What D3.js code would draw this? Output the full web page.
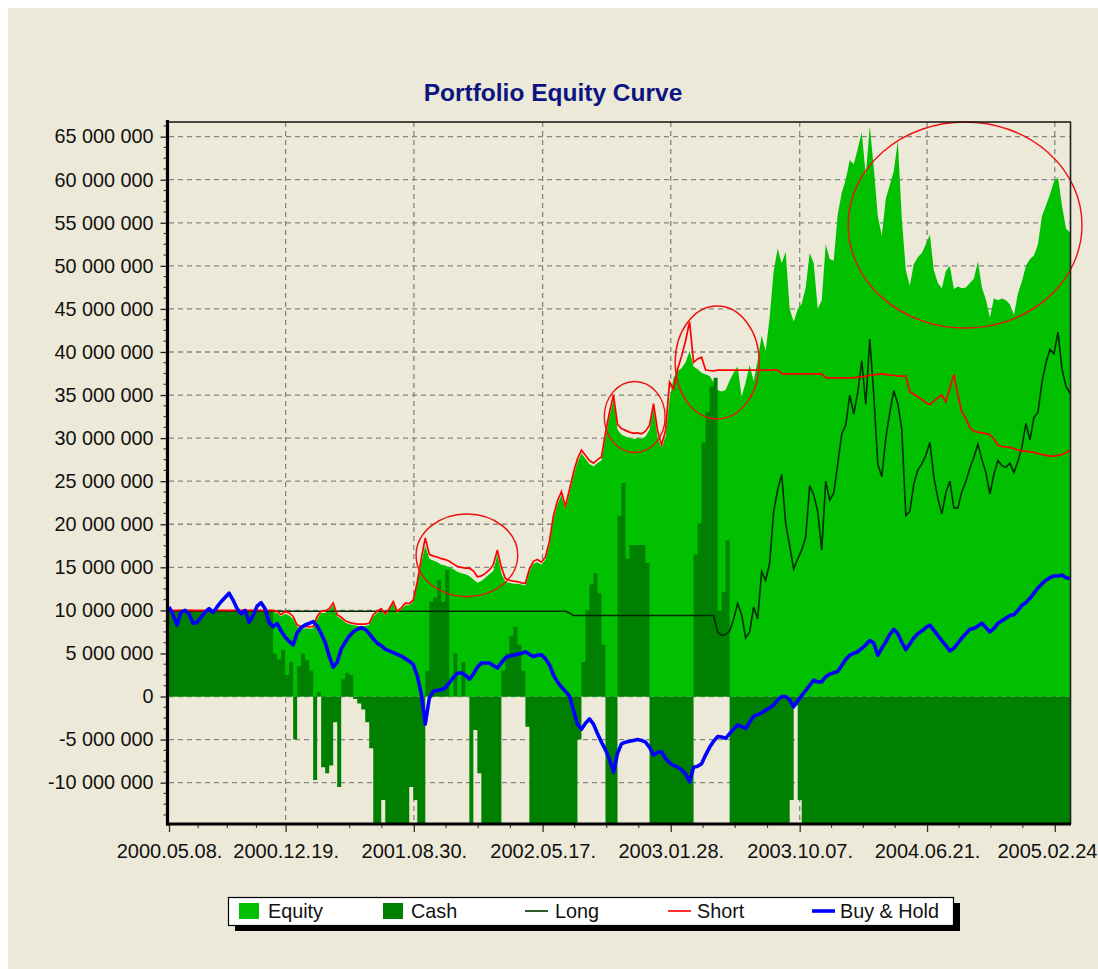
<!DOCTYPE html>
<html><head><meta charset="utf-8">
<script src="https://cdn.jsdelivr.net/npm/d3@7"></script>
<style>body{margin:0;background:#fff}svg{display:block}</style>
</head><body><svg id="c" width="1098" height="969"></svg>
<script>
// ---------- data (values in millions) ----------
const dateLabels = ["2000.05.08.","2000.12.19.","2001.08.30.","2002.05.17.","2003.01.28.","2003.10.07.","2004.06.21.","2005.02.24"];
const dateTickIndex = [0, 29.12, 61.14, 93.3, 125.3, 157.5, 189.3, 221.2];
const yTicksM = [-10,-5,0,5,10,15,20,25,30,35,40,45,50,55,60,65];
const seriesNames = ["Equity","Cash","Long","Short","Buy & Hold"];

const equityM = [
9.9,9.9,9.9,9.9,9.9,9.9,9.9,9.9,9.9,9.9,9.9,9.9,9.9,9.9,9.9,9.9,9.9,9.9,9.9,9.9,9.9,9.9,9.9,9.9,9.9,9.9,
9.8,9.7,9.3,9.6,9.4,9.0,8.1,7.9,7.9,7.9,7.9,9.0,9.7,9.7,10.0,10.6,9.3,9.0,8.6,8.4,8.3,8.2,8.2,8.2,8.3,9.3,9.7,10.0,9.4,10.0,10.8,9.7,10.1,10.6,10.6,11.0,
13.0,15.5,17.5,16.0,15.8,15.6,15.3,15.2,15.0,14.8,14.5,14.3,14.2,14.0,13.6,13.2,13.4,13.8,14.2,14.6,16.5,14.3,13.3,13.2,13.1,13.1,13.0,12.9,
14.5,15.4,15.6,15.3,15.9,17.6,20.6,22.3,23.4,21.7,23.6,25.6,27.2,28.2,27.6,27.0,26.7,27.1,27.4,30.1,32.5,34.5,31.0,30.4,30.2,30.0,29.9,30.0,29.9,30.2,31.0,33.5,30.2,28.8,30.2,34.5,37.0,37.8,38.1,38.8,40.1,
38.3,38.0,37.6,37.4,37.2,36.5,35.6,35.4,35.6,36.7,37.6,38.3,34.8,36.5,38.5,36.6,39.0,41.9,40.1,44.0,49.4,52.0,50.3,51.6,45.0,43.5,45.0,45.6,47.5,51.5,50.3,45.0,46.0,52.5,50.8,50.6,56.0,58.5,60.0,62.3,61.8,
63.6,65.5,60.5,66.2,61.4,55.8,53.5,57.8,59.4,61.0,64.5,55.5,49.5,47.7,50.2,51.0,51.5,52.5,53.6,49.5,48.0,47.4,49.4,50.0,47.3,47.6,47.4,47.5,48.0,48.5,50.5,47.5,46.1,44.0,46.2,46.0,46.2,46.0,45.5,44.3,46.8,48.2,50.0,50.8,51.2,52.5,55.8,57.0,58.3,59.8,60.3,57.0,54.3,53.9
];

const cashM = [
9.9,9.9,9.9,9.9,9.9,9.9,9.9,9.9,9.9,9.9,9.9,9.9,9.9,9.9,9.9,9.9,9.9,9.9,9.9,9.9,9.9,9.9,9.9,9.9,9.9,9.9,
5.0,4.3,5.4,2.5,4.0,-5.0,3.5,5.0,4.2,3.0,-9.7,0.5,-8.2,-8.9,-8.0,-3.0,-10.5,2.0,2.75,2.5,-0.3,-0.8,-1.5,-3.0,-6.0,
-16,-16,-12,-16,-16,-16,-16,-16,-16,-10.5,-12,-16,-16,
3.0,11.0,11.5,13.5,11.0,14.7,0,5.0,0,4.0,0,
-16,-3.9,-8.9,-16,-16,-16,-16,-16,
3.0,5.0,7.0,8.1,6.0,3.0,
-3.5,-16,-16,-16,-16,-16,-16,-16,-16,-16,-16,-16,-16,-5.0,
4.0,10.0,13.0,14.3,12.0,6.0,
-16,-16,-16,
21.0,24.8,16.0,17.6,17.6,17.6,17.6,15.5,
-16,-16,-16,-16,-16,-16,-16,-16,-16,-16,-16,
16.5,20.1,29.5,33.0,36.0,37.0,
10.0,12.1,18.1,
-16,-16,-16,-16,-16,-16,-16,-16,-16,-16,-16,-16,-16,-16,-16,-12,-1.0,-12,
-16,-16,-16,-16,-16,-16,-16,-16,-16,-16,-16,-16,-16,-16,-16,-16,-16,-16,-16,-16,-16,-16,-16,-16,-16,-16,-16,-16,-16,-16,-16,-16,-16,-16,
-16,-16,-16,-16,-16,-16,-16,-16,-16,-16,-16,-16,-16,-16,-16,-16,-16,-16,-16,-16,-16,-16,-16,-16,-16,-16,-16,-16,-16,-16,-16,-16,-16,-16
];

const longM = [
9.9,9.9,9.9,9.9,9.9,9.9,9.9,9.9,9.9,9.9,9.9,9.9,9.9,9.9,9.9,9.9,9.9,9.9,9.9,9.9,9.9,9.9,9.9,9.9,9.9,
9.9,9.9,9.9,9.9,9.9,9.9,9.9,9.9,9.9,9.9,9.9,9.9,9.9,9.9,9.9,9.9,9.9,9.9,9.9,9.9,9.9,9.9,9.9,9.9,9.9,
9.9,9.9,9.9,9.9,9.9,9.9,9.9,9.9,9.9,9.9,9.9,9.9,9.9,9.9,9.9,9.9,9.9,9.9,9.9,9.9,9.9,9.9,9.9,9.9,9.9,
9.9,9.9,9.9,9.9,9.9,9.9,9.9,9.9,9.9,9.9,9.9,9.9,9.9,9.9,9.9,9.9,9.9,9.9,9.9,9.9,9.9,9.9,9.9,9.9,9.9,
9.7,9.4,9.4,9.4,9.4,9.4,9.4,9.4,9.4,9.4,9.4,9.4,9.4,9.4,9.4,9.4,9.4,9.4,9.4,9.4,9.4,9.4,9.4,9.4,9.4,9.4,9.4,9.4,9.4,9.4,9.4,9.4,9.4,9.4,9.4,9.4,9.4,
7.5,7.1,7.2,7.6,9.0,10.8,9.5,6.8,7.5,10.4,9.0,14.5,13.5,15.5,21.5,24.0,25.8,20.1,17.5,14.8,16.0,17.0,18.5,24.5,23.4,21.5,17.0,25.0,22.8,23.6,27.0,30.5,31.5,35.0,32.8,35.3,39.0,33.9,41.5,35.0,
27.0,25.5,30.0,33.0,35.5,34.0,31.0,21.0,21.5,24.7,26.3,27.0,28.0,29.5,25.5,23.0,21.2,23.7,25.0,21.9,21.9,23.8,25.0,26.5,27.8,29.3,27.5,26.0,23.5,25.8,27.4,26.8,26.6,27.1,26.0,27.3,29.0,31.7,29.8,32.4,33.0,36.5,38.75,40.3,39.8,42.3,38.0,36.0,35.2
];

const shortM = [
10.0,10.0,10.0,10.0,10.0,10.0,10.0,10.0,10.0,10.0,10.0,10.0,10.0,10.0,10.0,10.0,10.0,10.0,10.0,10.0,10.0,10.0,10.0,10.0,10.0,10.0,10.0,
9.9,9.5,9.9,9.7,9.3,8.3,8.1,8.1,8.1,8.1,9.3,9.9,9.9,10.2,10.85,9.5,9.2,8.8,8.6,8.5,8.4,8.4,8.4,8.5,9.5,9.9,10.2,9.6,10.2,11.0,9.9,10.3,10.85,10.8,11.2,
13.3,16.0,18.4,16.5,16.3,16.2,16.0,15.9,15.7,15.4,15.1,15.0,14.9,14.9,14.6,13.9,14.0,14.3,14.7,15.3,17.0,15.0,13.7,13.5,13.4,13.35,13.2,13.15,
14.8,15.7,15.9,15.6,16.2,18.0,21.0,22.7,23.8,22.1,24.0,26.0,27.6,28.6,28.0,27.4,27.1,27.5,27.8,30.6,33.0,35.0,31.6,31.1,30.9,30.7,30.55,30.6,30.5,30.8,31.5,34.0,30.9,29.2,30.9,36.5,35.7,38.0,39.5,41.3,43.5,38.8,39.2,39.4,37.9,37.85,37.8,
37.9,37.9,37.9,37.9,37.9,37.9,37.9,37.9,37.9,37.9,37.9,37.9,37.9,37.9,37.9,37.9,
37.45,37.45,37.45,37.45,37.45,37.45,37.45,37.45,37.45,37.45,37.45,
37.0,37.0,37.0,37.0,37.0,37.0,37.0,37.0,
37.1,37.1,37.2,37.3,37.35,37.4,37.45,37.4,37.3,37.3,37.2,37.2,37.2,35.4,35.1,34.8,34.5,34.1,33.9,34.3,34.7,35.0,34.2,35.8,37.4,35.0,33.0,32.3,31.2,30.8,30.7,30.6,30.55,30.4,29.9,29.2,29.0,29.0,28.9,28.8,28.6,28.5,28.5,28.4,28.35,28.2,28.1,28.0,27.9,27.9,28.0,28.1,28.3,28.6
];

const buyHoldM = [
10.4,9.5,8.3,9.8,10.0,9.6,8.5,8.6,9.2,9.8,10.2,9.75,10.4,11.0,11.5,12.0,11.2,10.2,9.6,10.0,8.6,9.4,10.5,10.9,10.2,8.6,
8.1,8.5,7.6,6.9,6.4,6.0,7.4,8.0,8.3,8.5,8.7,8.2,7.3,6.3,4.7,3.4,4.0,5.5,6.3,7.0,7.5,7.8,8.0,7.8,7.3,6.7,6.2,5.9,5.5,5.3,5.1,4.9,4.7,4.4,4.1,3.7,
2.4,0.3,-3.2,-0.2,0.6,0.7,0.8,1.0,1.6,2.2,2.7,2.75,2.5,2.0,2.6,3.4,3.9,3.9,3.9,3.6,3.3,3.9,4.5,4.7,4.8,4.9,5.0,5.2,
4.9,4.65,4.8,4.85,4.4,3.7,2.5,1.7,1.1,0.6,0.1,-1.6,-3.2,-3.8,-3.1,-2.6,-3.2,-4.3,-5.3,-6.2,-7.3,-8.8,-6.6,-5.5,-5.3,-5.2,-5.1,-5.0,-5.1,-5.3,-5.9,-6.8,-6.5,-6.4,-7.2,-7.7,-8.0,-8.2,-8.5,-9.0,-9.9,
-8.2,-8.1,-7.8,-6.8,-5.9,-5.2,-4.65,-4.7,-4.85,-4.3,-3.8,-3.3,-3.5,-3.7,-3.0,-2.3,-2.1,-1.9,-1.6,-1.3,-1.0,-0.4,0.0,0.0,-0.4,-1.2,-0.5,0.1,0.7,1.3,1.9,1.7,1.7,2.3,2.6,2.75,2.9,3.6,4.3,4.8,5.0,
5.2,5.6,6.0,6.5,6.2,4.8,5.6,6.35,7.2,7.8,7.3,6.3,5.45,6.1,6.8,7.3,7.6,8.0,8.3,7.7,7.1,6.5,5.9,5.3,5.6,6.2,6.8,7.3,7.8,7.9,8.2,8.5,8.0,7.5,7.9,8.5,8.8,9.1,9.4,9.5,10.0,10.6,10.9,11.4,12.0,12.6,13.1,13.5,13.8,14.0,14.0,14.1,13.8,13.7
];

// hand-drawn red ellipse annotations (centre index / value, radii in index / millions)
const noteIndex  = [74.4, 116.3, 136.9, 198.8];
const noteValue  = [16.39, 32.45, 38.78, 54.74];
const noteRadIdx = [12.7, 7.6, 10.5, 29.2];
const noteRadVal = [4.8, 4.12, 6.56, 11.96];

// ---------- drawing ----------
const W = 1098, H = 969;
const FONT = "'Liberation Sans', Arial, sans-serif";
const svg = d3.select('#c');
svg.append('rect').attr('width', W).attr('height', H).attr('fill', '#ffffff');
svg.append('rect').attr('x', 8).attr('y', 8).attr('width', W - 8).attr('height', H - 8).attr('fill', '#ECE9D8');

const m = {l: 169, r: 1070, t: 122, b: 824};
const x = d3.scaleLinear().domain([0, equityM.length - 1]).range([m.l, m.r]);
const y = d3.scaleLinear().domain([-14.8, 66.7]).range([m.b, m.t]);

const defs = svg.append('defs');
defs.append('clipPath').attr('id', 'plotclip').append('rect')
  .attr('x', m.l).attr('y', m.t).attr('width', m.r - m.l).attr('height', m.b - m.t);

// grid
const grid = svg.append('g').attr('stroke', '#858585').attr('stroke-width', 1.3).attr('stroke-dasharray', '5,4');
grid.selectAll('line.h').data(yTicksM).join('line')
  .attr('x1', m.l).attr('x2', m.r).attr('y1', d => y(d)).attr('y2', d => y(d));
grid.selectAll('line.v').data(dateTickIndex.slice(1)).join('line')
  .attr('x1', d => x(d)).attr('x2', d => x(d)).attr('y1', m.t).attr('y2', m.b);

const plot = svg.append('g').attr('clip-path', 'url(#plotclip)');
plot.append('path').datum(equityM)
  .attr('fill', '#00C000')
  .attr('d', d3.area().x((d, i) => x(i)).y0(y(0)).y1(d => y(d)));
plot.append('path').datum(cashM)
  .attr('fill', '#008000')
  .attr('d', d3.area().curve(d3.curveStepAfter).x((d, i) => x(i)).y0(y(0)).y1(d => y(d)));

const lineGen = d3.line().x((d, i) => x(i)).y(d => y(d));
plot.append('path').datum(longM).attr('fill', 'none').attr('stroke', '#002a00').attr('stroke-width', 1.6).attr('d', lineGen);
plot.append('path').datum(shortM).attr('fill', 'none').attr('stroke', '#ff0000').attr('stroke-width', 1.7).attr('d', lineGen);
plot.append('path').datum(buyHoldM).attr('fill', 'none').attr('stroke', '#0000ff').attr('stroke-width', 3.6)
  .attr('stroke-linejoin', 'round').attr('d', lineGen);

// annotations
svg.append('g').selectAll('ellipse').data(noteIndex).join('ellipse')
  .attr('cx', (d, i) => x(d))
  .attr('cy', (d, i) => y(noteValue[i]))
  .attr('rx', (d, i) => x(d + noteRadIdx[i]) - x(d))
  .attr('ry', (d, i) => y(noteValue[i] - noteRadVal[i]) - y(noteValue[i]))
  .attr('fill', 'none').attr('stroke', '#ee1111').attr('stroke-width', 1.4);

// frame
svg.append('line').attr('x1', m.l - 1).attr('x2', m.r + 1).attr('y1', m.t).attr('y2', m.t).attr('stroke', '#111').attr('stroke-width', 1.6);
svg.append('line').attr('x1', m.r + 0.5).attr('x2', m.r + 0.5).attr('y1', m.t).attr('y2', m.b).attr('stroke', '#222').attr('stroke-width', 1.6);

// y axis
const fmt = d3.formatLocale({decimal: '.', thousands: ' ', grouping: [3], currency: ['', ''], minus: '-'}).format(',d');
const yMinor = [];
yTicksM.forEach(v => { for (let k = 1; k < 4; k++) { const mv = v + k * 1.25; if (mv < 66.7) yMinor.push(mv); } });
yMinor.push(-11.25, -12.5, -13.75);
const yAx = svg.append('g').attr('transform', `translate(${m.l - 1.5},0)`);
yAx.call(d3.axisLeft(y).tickValues(yTicksM).tickFormat(v => fmt(v * 1e6)).tickSize(7).tickPadding(7));
yAx.select('.domain').remove();
yAx.selectAll('.tick line').attr('stroke', '#222').attr('stroke-width', 1.3);
yAx.selectAll('text').attr('font-family', FONT).attr('font-size', 19.8).attr('fill', '#111');
yAx.selectAll('line.minor').data(yMinor).join('line').attr('class', 'minor')
  .attr('x1', -4).attr('x2', 0).attr('y1', d => y(d)).attr('y2', d => y(d)).attr('stroke', '#444').attr('stroke-width', 1.2);
svg.append('line').attr('x1', m.l - 1.5).attr('x2', m.l - 1.5).attr('y1', m.t - 2).attr('y2', m.b + 1.5)
  .attr('stroke', '#000').attr('stroke-width', 3.2);

// x axis
const xMinor = [];
for (let k = 0; k < dateTickIndex.length - 1; k++) {
  const a = dateTickIndex[k], b = dateTickIndex[k + 1];
  for (let j = 1; j < 4; j++) xMinor.push(a + (b - a) * j / 4);
}
const xAx = svg.append('g').attr('transform', `translate(0,${m.b})`);
xAx.call(d3.axisBottom(x).tickValues(dateTickIndex).tickFormat((d, i) => dateLabels[i]).tickSize(8).tickPadding(12));
xAx.select('.domain').remove();
xAx.selectAll('.tick line').attr('stroke', '#333').attr('stroke-width', 1.3);
xAx.selectAll('text').attr('font-family', FONT).attr('font-size', 20).attr('fill', '#111');
// last label would run past the window edge: right-align it to the edge
xAx.selectAll('.tick').filter((d, i) => i === dateLabels.length - 1).select('text')
  .attr('text-anchor', 'end').attr('x', W - 1 - x(dateTickIndex[dateTickIndex.length - 1]));
xAx.selectAll('line.minor').data(xMinor).join('line').attr('class', 'minor')
  .attr('x1', d => x(d)).attr('x2', d => x(d)).attr('y1', 0).attr('y2', 4).attr('stroke', '#444').attr('stroke-width', 1.2);
svg.append('line').attr('x1', m.l - 3).attr('x2', m.r + 1).attr('y1', m.b).attr('y2', m.b)
  .attr('stroke', '#000').attr('stroke-width', 3.2);

// title
svg.append('text').attr('x', 553).attr('y', 101).attr('text-anchor', 'middle')
  .attr('font-family', FONT).attr('font-weight', 'bold').attr('font-size', 24.5).attr('fill', '#0c1480')
  .text('Portfolio Equity Curve');

// legend
const lg = svg.append('g');
lg.append('rect').attr('x', 235).attr('y', 903).attr('width', 725).attr('height', 28).attr('fill', '#000');
lg.append('rect').attr('x', 228.5).attr('y', 897.5).attr('width', 725).attr('height', 28).attr('fill', '#fff').attr('stroke', '#000').attr('stroke-width', 1.2);
const legX = [239, 383, 525, 668, 812];
const legTextX = [268, 411, 555, 697, 840];
const legKind = ['box', 'box', 'line', 'line', 'line'];
const legColor = ['#00C000', '#008000', '#2e5e2e', '#ff3030', '#0000ff'];
const legWidth = [0, 0, 2, 2, 3.6];
seriesNames.forEach((name, i) => {
  if (legKind[i] === 'box') {
    lg.append('rect').attr('x', legX[i]).attr('y', 903).attr('width', 20).attr('height', 16).attr('fill', legColor[i]);
  } else {
    lg.append('line').attr('x1', legX[i]).attr('x2', legX[i] + 23).attr('y1', 911).attr('y2', 911)
      .attr('stroke', legColor[i]).attr('stroke-width', legWidth[i]);
  }
  lg.append('text').attr('x', legTextX[i]).attr('y', 918).attr('font-family', FONT).attr('font-size', 19.8)
    .attr('fill', '#111').text(name);
});
</script>
</body></html>
